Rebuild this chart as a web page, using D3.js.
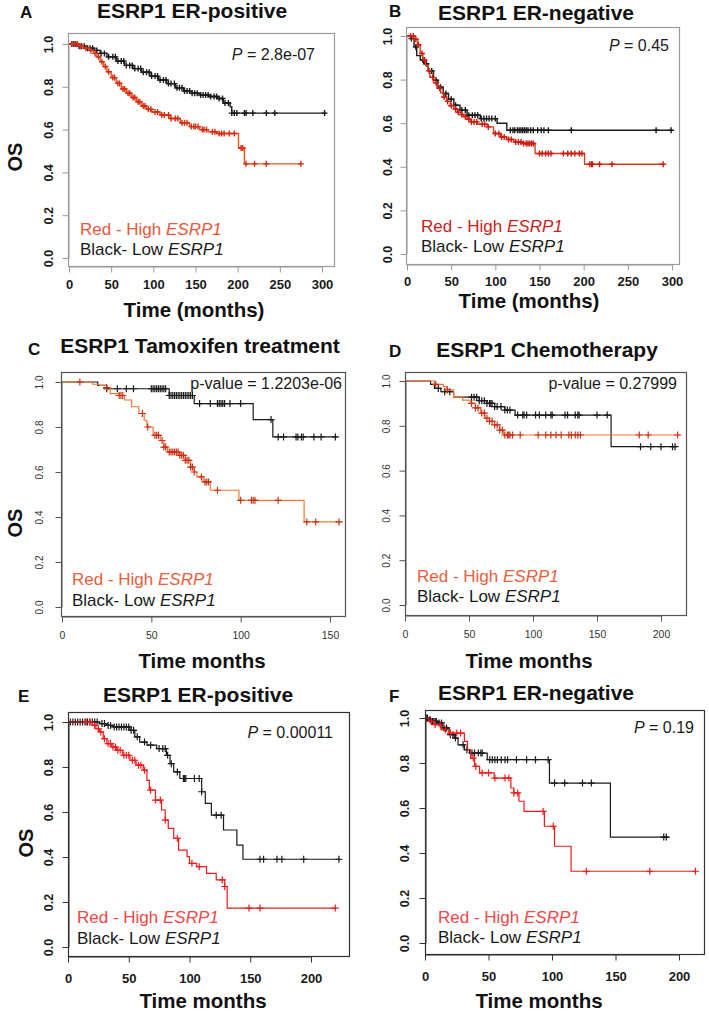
<!DOCTYPE html>
<html><head><meta charset="utf-8">
<script src="https://cdn.jsdelivr.net/npm/d3@7"></script>
<style>body{margin:0;background:#fff}</style>
</head><body><svg id="fig" width="709" height="1012"></svg>
<script>
// ---------------- DATA ----------------
const yTicks = [0, 0.2, 0.4, 0.6, 0.8, 1.0];
const xTicksA = [0, 50, 100, 150, 200, 250, 300];
const xTicksB = [0, 50, 100, 150, 200, 250, 300];
const xTicksC = [0, 50, 100, 150];
const xTicksD = [0, 50, 100, 150, 200];
const xTicksE = [0, 50, 100, 150, 200];
const xTicksF = [0, 50, 100, 150, 200];

const titles = ["ESRP1 ER-positive", "ESRP1 ER-negative", "ESRP1 Tamoxifen treatment", "ESRP1 Chemotherapy", "ESRP1 ER-positive", "ESRP1 ER-negative"];
const panelLetters = ["A", "B", "C", "D", "E", "F"];
const pValues = ["2.8e-07", "0.45", "1.2203e-06", "0.27999", "0.00011", "0.19"];
const xTitles = ["Time (months)", "Time (months)", "Time months", "Time months", "Time months", "Time months"];

// Panel A
const aLowTime  = [0,10,20,30,37,45,56,66,76,86,96,106,116,126,136,146,156,166,176,183,191,193];
const aLowSurv  = [1,0.99,0.98,0.97,0.956,0.94,0.92,0.9,0.885,0.868,0.85,0.832,0.815,0.795,0.78,0.77,0.762,0.755,0.745,0.724,0.706,0.677];
const aLowEnd = 305;
const aLowCensor = [5,8,12,15,18,22,25,28,33,38,42,47,52,55,58,62,65,68,72,75,78,82,85,88,92,95,98,102,105,108,112,115,118,121,125,128,131,134,137,140,143,146,149,152,156,159,162,165,168,172,175,178,182,185,189,193,196,199,208,210,218,234,244,303];
const aHighTime = [0,12,17,24,29,33,37,41,45,50,56,62,68,74,80,86,92,98,108,120,132,143,155,165,175,201,208];
const aHighSurv = [1,0.99,0.98,0.97,0.956,0.94,0.917,0.895,0.87,0.843,0.816,0.79,0.77,0.75,0.73,0.71,0.695,0.682,0.668,0.652,0.632,0.614,0.6,0.59,0.582,0.514,0.44];
const aHighEnd = 275;
const aHighCensor = [3,7,10,14,20,26,31,35,39,43,47,52,54,58,60,64,66,70,72,76,78,82,84,88,90,94,97,102,105,110,113,118,121,126,129,134,137,140,145,148,150,153,158,160,163,170,173,178,181,184,190,196,204,206,210,220,234,275];

// Panel B
const bLowTime  = [0,4,8,11,15,19,24,30,35,41,47,53,60,68,83,102,113];
const bLowSurv  = [1,0.988,0.95,0.91,0.89,0.873,0.84,0.797,0.765,0.736,0.71,0.682,0.66,0.637,0.621,0.6,0.568];
const bLowEnd = 300;
const bLowCensor = [5,10,18,22,28,33,38,44,50,55,62,66,70,74,77,80,84,87,90,93,96,100,117,120,122,125,127,129,131,133,135,137,140,143,148,152,155,160,186,282,299];
const bHighTime = [0,8,12,15,18,21,24,26,30,34,38,41,45,49,53,57,61,64,68,72,80,91,98,106,113,121,132,145,201];
const bHighSurv = [1,0.985,0.96,0.92,0.89,0.866,0.84,0.81,0.785,0.76,0.74,0.72,0.7,0.68,0.665,0.65,0.64,0.63,0.618,0.606,0.595,0.583,0.553,0.537,0.525,0.514,0.507,0.461,0.412];
const bHighEnd = 290;
const bHighCensor = [4,7,10,13,17,20,25,29,33,37,42,46,50,55,58,62,66,70,73,76,79,85,88,92,100,104,107,110,115,118,123,126,129,132,135,137,139,141,143,150,153,157,160,163,177,182,186,190,195,198,207,209,210,218,232,290];

// Panel C
const cLowTime  = [0,20,25,60,74,107,118];
const cLowSurv  = [1,0.985,0.97,0.94,0.904,0.833,0.756];
const cLowEnd = 154;
const cLowCensor = [25,31,36,40,50,51,52,53,54,55,56,57,58,60,61,62,63,64,65,66,67,68,69,70,71,72,73,77,83,87,88,89,90,91,94,100,117,121,124,131,132,134,135,141,145,153];
const cHighTime = [0,17,21,25,27,32,35,39,43,46,47.5,51,55,57,59,66,69,72,74,75.5,79,83,99,135.5];
const cHighSurv = [1,0.99,0.985,0.975,0.948,0.94,0.92,0.89,0.86,0.83,0.8,0.763,0.74,0.711,0.689,0.674,0.652,0.622,0.6,0.578,0.556,0.519,0.474,0.378];
const cHighEnd = 157;
const cHighCensor = [10,25,32,33,34,45,48,52,53,54,56,57,58,60,61,62,63,64,65,66,67,68,69,70,71,72,73,74,78,80,81,82,87,100,106,107,108,121,137,142,155];

// Panel D
const dLowTime  = [0,20,23,28,38,58,64,70,78,86,161];
const dLowSurv  = [1,0.985,0.967,0.952,0.928,0.912,0.9,0.886,0.87,0.848,0.707];
const dLowEnd = 212;
const dLowCensor = [26,31,35,52,54,56,58,60,62,64,66,67,68,70,72,75,78,80,82,88,92,93,95,102,105,110,114,115,125,127,133,135,136,150,158,184,192,200,209,211];
const dHighTime = [0,23,30,33,38,45,51,55,59,62.5,66,70,74,77];
const dHighSurv = [1,0.985,0.975,0.96,0.928,0.915,0.9,0.88,0.857,0.834,0.82,0.804,0.781,0.759];
const dHighEnd = 215;
const dHighCensor = [24,33,52,55,57,60,62,64,66,68,70,72,74,76,78,80,81,82,84,90,104,110,114,118,122,128,130,133,135,137,183,190,213];

// Panel E
const eLowTime  = [0,26,31.6,37,51,55,59,65,73,81,84,87,92,110,113,118,128,139,144];
const eLowSurv  = [1,0.993,0.985,0.978,0.963,0.934,0.911,0.897,0.882,0.852,0.815,0.778,0.749,0.69,0.638,0.586,0.52,0.453,0.39];
const eLowEnd = 224;
const eLowCensor = [2,4,6,8,10,12,14,16,18,20,22,24,28,30,33,35,38,40,42,44,46,48,50,52,54,57,63,68,75,78,80,82,85,90,95,96,97,104,108,110,122,126,158,161,172,176,194,223];
const eHighTime = [0,20,23,26,29,32,36,40,45,51,56,62,65,67,72,77,80,82.5,87,91,98,100,106,114,122,129,131];
const eHighSurv = [1,0.985,0.97,0.956,0.926,0.904,0.889,0.874,0.852,0.83,0.808,0.786,0.741,0.697,0.653,0.609,0.564,0.527,0.483,0.431,0.402,0.372,0.357,0.327,0.298,0.269,0.173];
const eHighEnd = 220;
const eHighCensor = [15,18,22,25,27,30,33,35,37,39,41,43,46,48,50,53,55,58,60,63,68,72,76,80,90,102,108,127,129,149,158,220];

// Panel F
const fLowTime  = [0,3,5,10,14,19,23,26,31,35,49,98,146];
const fLowSurv  = [1,0.993,0.985,0.978,0.956,0.926,0.911,0.881,0.859,0.844,0.815,0.711,0.471];
const fLowEnd = 192;
const fLowCensor = [1,2,4,5,6,7,8,9,11,13,15,17,20,22,24,30,33,37,39,42,44,45,51,53,55,57,60,63,65,72,80,87,97,102,110,124,131,188,190];
const fHighTime = [0,3,7,12.6,19,31,33.5,36,39,43,54.5,67.6,70,74,78,94,102,115];
const fHighSurv = [1,0.985,0.97,0.948,0.933,0.896,0.859,0.822,0.785,0.756,0.733,0.689,0.667,0.63,0.585,0.519,0.43,0.319];
const fHighEnd = 213;
const fHighCensor = [5,8,12,16,20,25,28,38,40,45,50,55,63,66,70,73,93,101,127,177,213];

// ---------------- LAYOUT / STYLE ----------------
const FONT = "'Liberation Sans', Arial, Helvetica, sans-serif";
const layout = [
  { box:[68,33,334,266], xr:[69,322], yr:[258,44], boxColor:"#9a9a9a", tickBold:true, xTickSize:13, yTickSize:12.5, xLabY:288, yLabX:48,
    title:[192,18], letter:[20,18], xTitle:[194,317], os:[22,157], p:[315,60], leg:[80,235,255], pStyle:"P",
    low:"#1a1a1a", highLine:"#e8561e", highMark:"#d82a10", legRed:"#e8583c", cs:3, sw:1.4 },
  { box:[406,27,679,264], xr:[407,672], yr:[254,36], boxColor:"#9a9a9a", tickBold:true, xTickSize:13, yTickSize:12.5, xLabY:285, yLabX:387,
    title:[536,20], letter:[389,17], xTitle:[529,308], os:null, p:[669,51], leg:[421,232,252], pStyle:"P",
    low:"#1a1a1a", highLine:"#d8401c", highMark:"#cc1a10", legRed:"#cc2020", cs:3, sw:1.4 },
  { box:[61,372,345,616], xr:[62,330], yr:[607,382], boxColor:"#555", tickBold:false, xTickSize:10.5, yTickSize:10, xLabY:638, yLabX:39,
    title:[200,353], letter:[28,355], xTitle:[202,668], os:[22,523], p:[342,389], leg:[72,585,606], pStyle:"pvalue",
    low:"#1a1a1a", highLine:"#f07a30", highMark:"#c83218", legRed:"#e8603c", cs:3.5, sw:1.2 },
  { box:[405,372,686,615], xr:[405,661], yr:[605,381], boxColor:"#555", tickBold:false, xTickSize:10.5, yTickSize:10, xLabY:637, yLabX:386,
    title:[547,357], letter:[389,357], xTitle:[529,668], os:null, p:[677,389], leg:[417,582,602], pStyle:"pvalue",
    low:"#1a1a1a", highLine:"#f07a30", highMark:"#c83218", legRed:"#e8603c", cs:3.5, sw:1.2 },
  { box:[68,712,349,956], xr:[68,311], yr:[947,722], boxColor:"#333", tickBold:true, xTickSize:13, yTickSize:12.5, xLabY:982, yLabX:48,
    title:[198,702], letter:[18,702], xTitle:[203,1008], os:[33,843], p:[333,738], leg:[77,923,944], pStyle:"P",
    low:"#1a1a1a", highLine:"#f01a1a", highMark:"#f01a1a", legRed:"#f04848", cs:3.5, sw:1.2 },
  { box:[425,710,704,954], xr:[425,679], yr:[943,718], boxColor:"#333", tickBold:true, xTickSize:13, yTickSize:12.5, xLabY:980, yLabX:404,
    title:[536,700], letter:[389,702], xTitle:[539,1008], os:null, p:[694,733], leg:[438,923,943], pStyle:"P",
    low:"#1a1a1a", highLine:"#f01a1a", highMark:"#f01a1a", legRed:"#f04848", cs:3.5, sw:1.2 }
];

const panelData = [
  { xTicks:xTicksA, low:[aLowTime,aLowSurv,aLowEnd,aLowCensor], high:[aHighTime,aHighSurv,aHighEnd,aHighCensor] },
  { xTicks:xTicksB, low:[bLowTime,bLowSurv,bLowEnd,bLowCensor], high:[bHighTime,bHighSurv,bHighEnd,bHighCensor] },
  { xTicks:xTicksC, low:[cLowTime,cLowSurv,cLowEnd,cLowCensor], high:[cHighTime,cHighSurv,cHighEnd,cHighCensor] },
  { xTicks:xTicksD, low:[dLowTime,dLowSurv,dLowEnd,dLowCensor], high:[dHighTime,dHighSurv,dHighEnd,dHighCensor] },
  { xTicks:xTicksE, low:[eLowTime,eLowSurv,eLowEnd,eLowCensor], high:[eHighTime,eHighSurv,eHighEnd,eHighCensor] },
  { xTicks:xTicksF, low:[fLowTime,fLowSurv,fLowEnd,fLowCensor], high:[fHighTime,fHighSurv,fHighEnd,fHighCensor] }
];

// ---------------- DRAW ----------------
const svg = d3.select("#fig");
svg.append("rect").attr("width",709).attr("height",1012).attr("fill","#fff");

function drawCurve(g, x, y, series, lineColor, markColor, cs, sw) {
  const [times, surv, end, censor] = series;
  const pts = times.map((t,i)=>[t, surv[i]]);
  pts.push([end, surv[surv.length-1]]);
  const line = d3.line().x(d=>x(d[0])).y(d=>y(d[1])).curve(d3.curveStepAfter);
  g.append("path").attr("d", line(pts)).attr("fill","none").attr("stroke", lineColor).attr("stroke-width", sw);
  const survAt = t => surv[Math.max(0, d3.bisectRight(times, t) - 1)];
  g.append("g").selectAll("path").data(censor).join("path")
    .attr("d", t => { const cx = x(t), cy = y(survAt(t));
      return `M${cx-cs},${cy}H${cx+cs}M${cx},${cy-cs}V${cy+cs}`; })
    .attr("stroke", markColor).attr("stroke-width", sw).attr("fill","none");
}

layout.forEach((L, i) => {
  const D = panelData[i];
  const g = svg.append("g");
  const xMax = D.xTicks[D.xTicks.length-1];
  const x = d3.scaleLinear().domain([0, xMax]).range(L.xr);
  const y = d3.scaleLinear().domain([0, 1]).range(L.yr);
  const [bx0, by0, bx1, by1] = L.box;
  const tickColor = L.boxColor;
  const weight = L.tickBold ? "bold" : "normal";
  const labColor = L.tickBold ? "#1a1a1a" : "#333";

  const clipId = "clip" + i;
  svg.append("clipPath").attr("id", clipId).append("rect")
    .attr("x", bx0).attr("y", by0).attr("width", bx1-bx0).attr("height", by1-by0);
  const cg = g.append("g").attr("clip-path", `url(#${clipId})`);
  drawCurve(cg, x, y, D.low, L.low, L.low, L.cs, L.sw);
  drawCurve(cg, x, y, D.high, L.highLine, L.highMark, L.cs, L.sw);

  g.append("rect").attr("x", bx0+0.5).attr("y", by0+0.5).attr("width", bx1-bx0).attr("height", by1-by0)
    .attr("fill","none").attr("stroke", L.boxColor).attr("stroke-width",1.2);

  const xa = g.append("g").attr("transform", `translate(0,${by1+0.5})`)
    .call(d3.axisBottom(x).tickValues(D.xTicks).tickSize(6).tickSizeOuter(0).tickFormat(d3.format("d")));
  xa.select(".domain").attr("stroke", tickColor);
  xa.selectAll(".tick line").attr("stroke", tickColor);
  xa.selectAll(".tick text").attr("y", L.xLabY - by1).attr("dy", null)
    .attr("font-family", FONT).attr("font-size", L.xTickSize).attr("font-weight", weight).attr("fill", labColor);

  const ya = g.append("g").attr("transform", `translate(${bx0+0.5},0)`)
    .call(d3.axisLeft(y).tickValues(yTicks).tickSize(6).tickSizeOuter(0).tickFormat(d3.format(".1f")));
  ya.select(".domain").attr("stroke", tickColor);
  ya.selectAll(".tick line").attr("stroke", tickColor);
  const capH = L.yTickSize * 0.72;
  ya.selectAll(".tick text").attr("x", 0).attr("dy", null)
    .attr("y", -(bx0 - L.yLabX - capH/2))
    .attr("transform", "rotate(-90)").attr("text-anchor", "middle")
    .attr("font-family", FONT).attr("font-size", L.yTickSize).attr("font-weight", weight).attr("fill", labColor);

  g.append("text").attr("x", L.title[0]).attr("y", L.title[1]).attr("text-anchor","middle")
    .attr("font-family", FONT).attr("font-weight","bold").attr("font-size",21).attr("fill","#111").text(titles[i]);
  g.append("text").attr("x", L.letter[0]).attr("y", L.letter[1])
    .attr("font-family", FONT).attr("font-weight","bold").attr("font-size",17).attr("fill","#111").text(panelLetters[i]);

  g.append("text").attr("x", L.xTitle[0]).attr("y", L.xTitle[1]).attr("text-anchor","middle")
    .attr("font-family", FONT).attr("font-weight","bold").attr("font-size",20.5).attr("fill","#111").text(xTitles[i]);

  if (L.os) {
    g.append("text").attr("transform", `translate(${L.os[0]},${L.os[1]}) rotate(-90)`).attr("text-anchor","middle")
      .attr("font-family", FONT).attr("font-weight","bold").attr("font-size",20).attr("fill","#111").text("OS");
  }

  const pt = g.append("text").attr("x", L.p[0]).attr("y", L.p[1]).attr("text-anchor","end")
    .attr("font-family", FONT).attr("font-size",16).attr("fill","#1a1a1a");
  if (L.pStyle === "P") {
    pt.append("tspan").attr("font-style","italic").text("P");
    pt.append("tspan").text(" = " + pValues[i]);
  } else {
    pt.text("p-value = " + pValues[i]);
  }

  const l1 = g.append("text").attr("x", L.leg[0]).attr("y", L.leg[1])
    .attr("font-family", FONT).attr("font-size",17).attr("fill", L.legRed);
  l1.append("tspan").text("Red - High ");
  l1.append("tspan").attr("font-style","italic").text("ESRP1");
  const l2 = g.append("text").attr("x", L.leg[0]).attr("y", L.leg[2])
    .attr("font-family", FONT).attr("font-size",17).attr("fill", "#1a1a1a");
  l2.append("tspan").text("Black- Low ");
  l2.append("tspan").attr("font-style","italic").text("ESRP1");
});
</script></body></html>
